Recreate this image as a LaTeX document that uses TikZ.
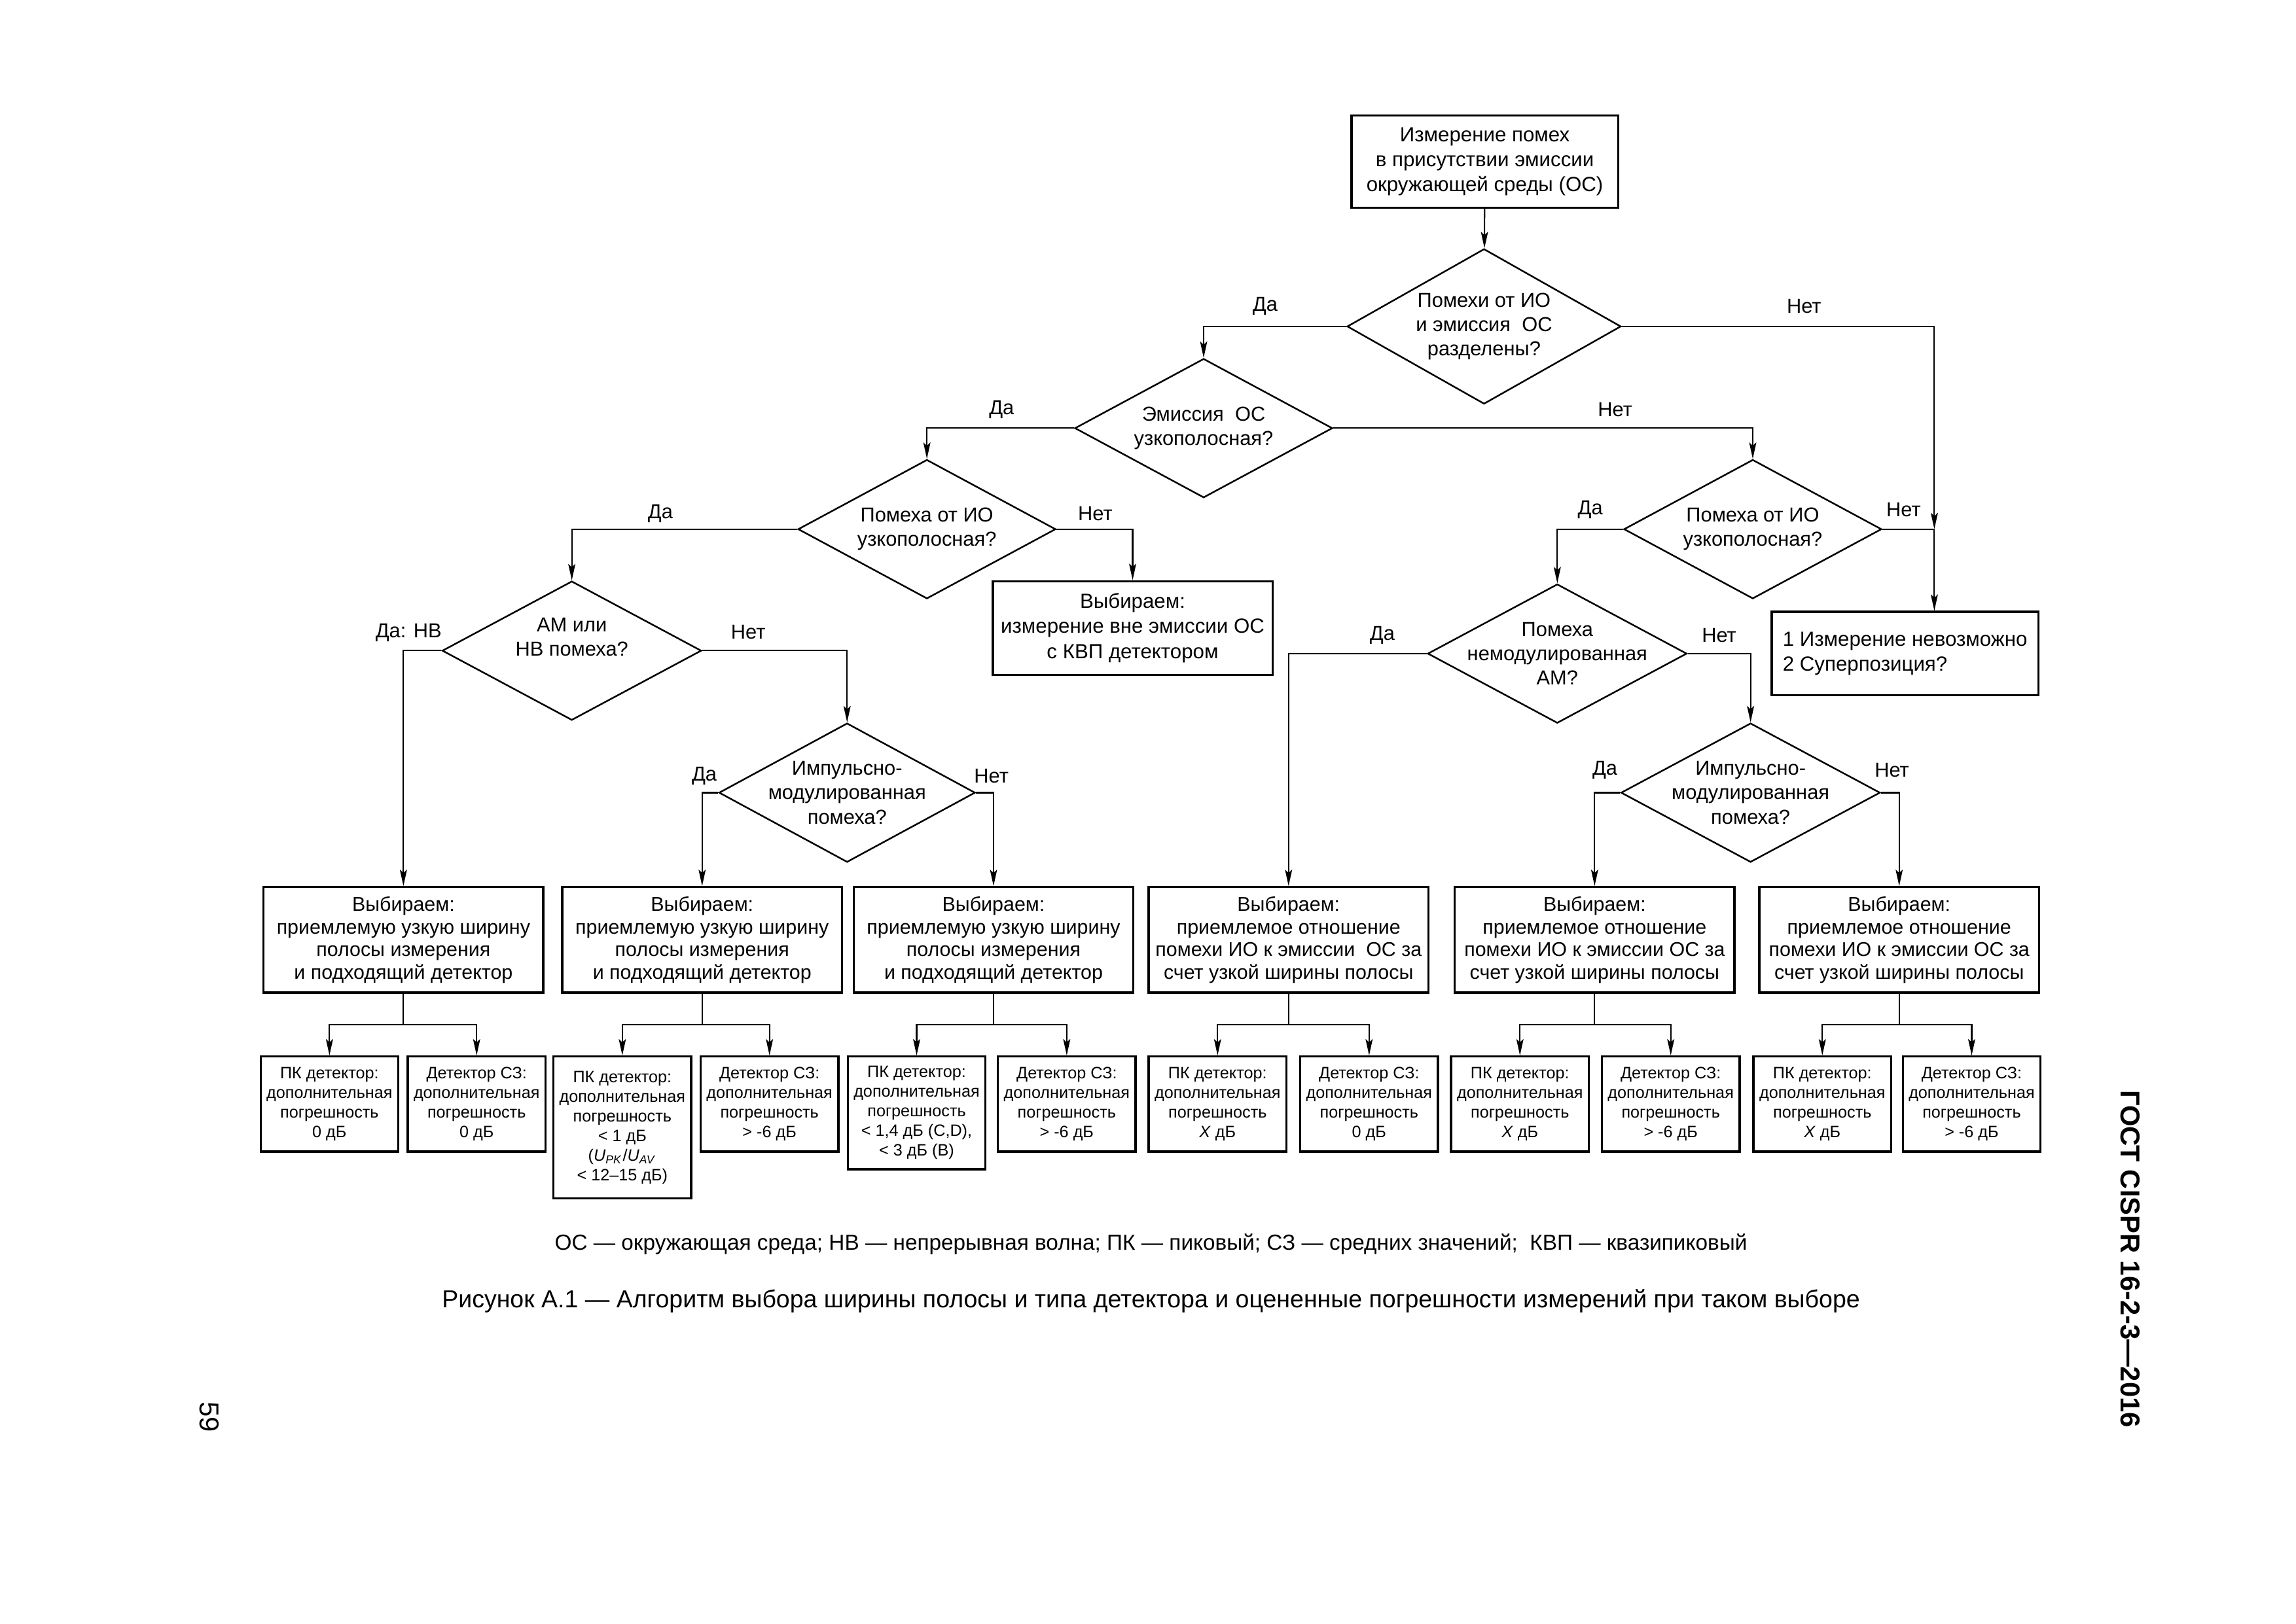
\documentclass[tikz,border=0pt]{standalone}
\usepackage{fontspec}
\setmainfont{Liberation Sans}
\usetikzlibrary{shapes.geometric,arrows.meta}
\begin{document}
\begin{tikzpicture}[x=0.5369pt,y=-0.5369pt,
  every node/.style={font=\fontsize{7.4}{8.9}\selectfont},
  sz/.style 2 args={minimum width=#1*0.5369pt,minimum height=#2*0.5369pt},
  box/.style={draw,line width=0.8pt,inner sep=0pt,align=center},
  rbox/.style={box,font=\fontsize{7.3}{8.3}\selectfont,sz={191}{72}},
  sbox/.style={box,anchor=north,font=\fontsize{6.05}{7.2}\selectfont,minimum width=94*0.5369pt},
  dia/.style={draw,diamond,line width=0.6pt,inner sep=0pt},
  dtxt/.style={align=center,inner sep=0pt},
  lab/.style={inner sep=0pt},
  ln/.style={line width=0.5pt},
  arr/.style={ln,-{Stealth[length=6pt,width=2.6pt,inset=1.2pt]}},
]
\useasboundingbox (0,0) rectangle (1568,1109);

% top box
\node[box,sz={182}{63},font=\fontsize{7.5}{9.1}\selectfont] (top) at (1014,110.5)
  {Измерение помех\\в присутствии эмиссии\\окружающей среды (ОС)};

% diamonds
\node[dia,sz={187}{106}] (d1) at (1013.5,223) {};
\node[dtxt] (d1t) at (d1) {Помехи от ИО\\и эмиссия\ \ ОС\\разделены?};
\node[dia,sz={176}{95}] (d2) at (822,292.5) {};
\node[dtxt] (d2t) at (d2) {Эмиссия\ \ ОС\\узкополосная?};
\node[dia,sz={176}{95}] (d3) at (633,361.5) {};
\node[dtxt] (d3t) at (d3) {Помеха от ИО\\узкополосная?};
\node[dia,sz={176}{95}] (d4) at (1197,361.5) {};
\node[dtxt] (d4t) at (d4) {Помеха от ИО\\узкополосная?};
\node[dia,sz={177}{95}] (d5) at (390.5,444.5) {};
\node[dtxt] (d5t) at (390.5,435) {АМ или\\НВ помеха?};
\node[dia,sz={177}{95}] (d6) at (1063.5,446.5) {};
\node[dtxt] (d6t) at (d6) {Помеха\\немодулированная\\АМ?};
\node[dia,sz={175}{95}] (d7) at (578.5,541.5) {};
\node[dtxt] (d7t) at (d7) {Импульсно-\\модулированная\\помеха?};
\node[dia,sz={177}{95}] (d8) at (1195.5,541.5) {};
\node[dtxt] (d8t) at (d8) {Импульсно-\\модулированная\\помеха?};

% mid boxes
\node[box,sz={191}{64},font=\fontsize{7.5}{9.3}\selectfont] (b1) at (773.5,429)
  {Выбираем:\\измерение вне эмиссии ОС\\с КВП детектором};
\node[box,sz={182}{57},align=left,font=\fontsize{7.5}{9.1}\selectfont] (b2) at (1301,446.5)
  {1 Измерение невозможно\\2 Суперпозиция?};

% result boxes
\node[rbox] (r1) at (275.5,642) {Выбираем:\\приемлемую узкую ширину\\полосы измерения\\и подходящий детектор};
\node[rbox] (r2) at (479.5,642) {Выбираем:\\приемлемую узкую ширину\\полосы измерения\\и подходящий детектор};
\node[rbox] (r3) at (678.5,642) {Выбираем:\\приемлемую узкую ширину\\полосы измерения\\и подходящий детектор};
\node[rbox] (r4) at (880,642) {Выбираем:\\приемлемое отношение\\помехи ИО к эмиссии\ \ ОС за\\счет узкой ширины полосы};
\node[rbox] (r5) at (1089,642) {Выбираем:\\приемлемое отношение\\помехи ИО к эмиссии ОС за\\счет узкой ширины полосы};
\node[rbox] (r6) at (1297,642) {Выбираем:\\приемлемое отношение\\помехи ИО к эмиссии ОС за\\счет узкой ширины полосы};

% small boxes
\node[sbox,minimum height=65*0.5369pt] (s1) at (225,721) {ПК детектор:\\дополнительная\\погрешность\\0 дБ};
\node[sbox,minimum height=65*0.5369pt] (s2) at (325.5,721) {Детектор СЗ:\\дополнительная\\погрешность\\0 дБ};
\node[sbox,minimum height=97*0.5369pt] (s3) at (425,721) {ПК детектор:\\дополнительная\\погрешность\\< 1 дБ\\(\textit{U}\textsubscript{\textit{PK}}/\textit{U}\textsubscript{\textit{AV}}\\< 12–15 дБ)};
\node[sbox,minimum height=65*0.5369pt] (s4) at (525.5,721) {Детектор СЗ:\\дополнительная\\погрешность\\> -6 дБ};
\node[sbox,minimum height=77*0.5369pt] (s5) at (626,721) {ПК детектор:\\дополнительная\\погрешность\\< 1,4 дБ (C,D),\\< 3 дБ (B)};
\node[sbox,minimum height=65*0.5369pt] (s6) at (728.5,721) {Детектор СЗ:\\дополнительная\\погрешность\\> -6 дБ};
\node[sbox,minimum height=65*0.5369pt] (s7) at (831.5,721) {ПК детектор:\\дополнительная\\погрешность\\\textit{X} дБ};
\node[sbox,minimum height=65*0.5369pt] (s8) at (935,721) {Детектор СЗ:\\дополнительная\\погрешность\\0 дБ};
\node[sbox,minimum height=65*0.5369pt] (s9) at (1038,721) {ПК детектор:\\дополнительная\\погрешность\\\textit{X} дБ};
\node[sbox,minimum height=65*0.5369pt] (s10) at (1141,721) {Детектор СЗ:\\дополнительная\\погрешность\\> -6 дБ};
\node[sbox,minimum height=65*0.5369pt] (s11) at (1244.5,721) {ПК детектор:\\дополнительная\\погрешность\\\textit{X} дБ};
\node[sbox,minimum height=65*0.5369pt] (s12) at (1346.5,721) {Детектор СЗ:\\дополнительная\\погрешность\\> -6 дБ};

% connectors
\draw[arr] (top) -- (d1);
\draw[arr] (d1.west) -| (d2.north);
\coordinate (j1) at (1321,361.5);
\draw[arr] (d1.east) -| (j1);
\draw[ln] (d4.east) -- (j1);
\draw[arr] (j1) -- (j1 |- b2.north);
\draw[arr] (d2.west) -| (d3.north);
\draw[arr] (d2.east) -| (d4.north);
\draw[arr] (d3.west) -| (d5.north);
\draw[arr] (d3.east) -| (b1.north);
\draw[arr] (d4.west) -| (d6.north);
\draw[arr] (d5.west) -| (r1.north);
\draw[arr] (d5.east) -| (d7.north);
\draw[arr] (d7.west) -| (r2.north);
\draw[arr] (d7.east) -| (r3.north);
\draw[arr] (d6.west) -| (r4.north);
\draw[arr] (d6.east) -| (d8.north);
\draw[arr] (d8.west) -| (r5.north);
\draw[arr] (d8.east) -| (r6.north);

\foreach \r/\a/\b in {r1/s1/s2,r2/s3/s4,r3/s5/s6,r4/s7/s8,r5/s9/s10,r6/s11/s12}{
  \coordinate (h\r) at (\r.south |- 0,700);
  \draw[ln] (\r.south) -- (h\r);
  \draw[arr] (h\r) -| (\a.north);
  \draw[arr] (h\r) -| (\b.north);
}

% labels
\node[lab] (l1) at (864,209) {Да};
\node[lab] (l2) at (1232,209) {Нет};
\node[lab] (l3) at (684,280) {Да};
\node[lab] (l4) at (1103,280) {Нет};
\node[lab] (l5) at (451,351) {Да};
\node[lab] (l6) at (748,351) {Нет};
\node[lab] (l7) at (1086,348) {Да};
\node[lab] (l8) at (1300,348) {Нет};
\node[lab] (l9) at (279,432) {Да: НВ};
\node[lab] (l10) at (511,432) {Нет};
\node[lab] (l11) at (944,434) {Да};
\node[lab] (l12) at (1174,434) {Нет};
\node[lab] (l13) at (481,530) {Да};
\node[lab] (l14) at (677,530) {Нет};
\node[lab] (l15) at (1096,526) {Да};
\node[lab] (l16) at (1292,526) {Нет};

% captions
\node[lab,font=\fontsize{8}{9}\selectfont] (leg) at (786,850)
  {ОС — окружающая среда; НВ — непрерывная волна; ПК — пиковый; СЗ — средних значений;\ \ КВП — квазипиковый};
\node[lab,font=\fontsize{9}{11}\selectfont] (cap) at (786,889)
  {Рисунок А.1 — Алгоритм выбора ширины полосы и типа детектора и оцененные погрешности измерений при таком выборе};
\node[lab,rotate=-90,font=\fontsize{10}{12}\bfseries] (gost) at (1455,860) {ГОСТ CISPR 16-2-3—2016};
\node[lab,rotate=-90,font=\fontsize{10}{12}\selectfont] (pg) at (143,968) {59};
\end{tikzpicture}
\end{document}
